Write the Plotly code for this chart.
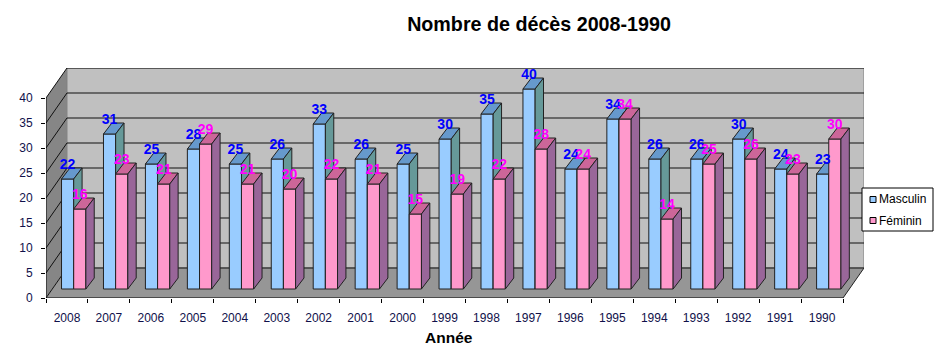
import plotly.graph_objects as go

# ---------------- data ----------------
years = ["2008", "2007", "2006", "2005", "2004", "2003", "2002", "2001", "2000", "1999",
         "1998", "1997", "1996", "1995", "1994", "1993", "1992", "1991", "1990"]
masculin = [22, 31, 25, 28, 25, 26, 33, 26, 25, 30, 35, 40, 24, 34, 26, 26, 30, 24, 23]
feminin = [16, 23, 21, 29, 21, 20, 22, 21, 15, 19, 22, 28, 24, 34, 14, 25, 26, 23, 30]
y_ticks = [0, 5, 10, 15, 20, 25, 30, 35, 40]
series_names = ["Masculin", "Féminin"]

# ---------------- styling / geometry constants ----------------
FONT = "Liberation Sans, Arial, sans-serif"
W, H = 950, 353
ML, MR, MT, MB = 46, 86, 68, 55
PW, PH = W - ML - MR, H - MT - MB
WALL_DX, WALL_DY = 0.5, 6.0      # depth of the 3D box (category units, value units)
BASE = 1.8                       # bar base (front face) above the floor front edge
BAR_DX, BAR_DY = 0.2, 2.2        # depth of each bar
BAR_W = 0.29
OFFSETS = [-0.13, -0.13 + BAR_W]
n = len(years)
X_MIN, X_MAX = -0.5, n - 0.5 + WALL_DX
Y_MAX = y_ticks[-1] + WALL_DY

colors = {
    "Masculin": dict(front="#99CCFF", top="#6699CC", side="#669999", label="#0000FF"),
    "Féminin": dict(front="#FF99CC", top="#CC6699", side="#996699", label="#FF00FF"),
}

def px2paper(px, py):
    return (px - ML) / PW, (H - MB - py) / PH

fig = go.Figure()

# ---------------- bars (front, top and side faces) ----------------
for name, vals, off in zip(series_names, [masculin, feminin], OFFSETS):
    c = colors[name]
    fx, fy, tx, ty, sx, sy = [], [], [], [], [], []
    for i, v in enumerate(vals):
        x0 = i + off
        x1 = x0 + BAR_W
        y0 = BASE
        y1 = BASE + v
        fx += [x0, x1, x1, x0, x0, None]
        fy += [y0, y0, y1, y1, y0, None]
        tx += [x0, x1, x1 + BAR_DX, x0 + BAR_DX, x0, None]
        ty += [y1, y1, y1 + BAR_DY, y1 + BAR_DY, y1, None]
        sx += [x1, x1 + BAR_DX, x1 + BAR_DX, x1, x1, None]
        sy += [y0, y0 + BAR_DY, y1 + BAR_DY, y1, y0, None]
    for xs, ys, col in [(fx, fy, c["front"]), (tx, ty, c["top"]), (sx, sy, c["side"])]:
        fig.add_trace(go.Scatter(
            x=xs, y=ys, mode="lines", fill="toself", fillcolor=col,
            line=dict(color="#222222", width=1), hoverinfo="skip",
            showlegend=False, name=name))

# ---------------- data labels ----------------
for name, vals, off in zip(series_names, [masculin, feminin], OFFSETS):
    fig.add_trace(go.Scatter(
        x=[i + off + BAR_W / 2 for i in range(n)],
        y=[BASE + v + 2.7 for v in vals],
        mode="text", text=[str(v) for v in vals], textposition="middle center",
        textfont=dict(family=FONT, size=14, color=colors[name]["label"], weight="bold"),
        hoverinfo="skip", showlegend=False, cliponaxis=False))

# ---------------- 3D walls, floor and gridlines ----------------
shapes = []
shapes.append(dict(type="path", layer="below", xref="x", yref="y",
                   path=f"M {X_MIN},0 L {X_MIN},{y_ticks[-1]} L {X_MIN + WALL_DX},{Y_MAX} "
                        f"L {X_MIN + WALL_DX},{WALL_DY} Z",
                   fillcolor="#868686", line=dict(width=0)))
shapes.append(dict(type="rect", layer="below", xref="x", yref="y",
                   x0=X_MIN + WALL_DX, x1=X_MAX, y0=WALL_DY, y1=Y_MAX,
                   fillcolor="#C0C0C0", line=dict(color="#808080", width=1)))
shapes.append(dict(type="path", layer="below", xref="x", yref="y",
                   path=f"M {X_MIN},0 L {n - 0.5},0 L {X_MAX},{WALL_DY} L {X_MIN + WALL_DX},{WALL_DY} Z",
                   fillcolor="#969696", line=dict(width=0)))
for v in y_ticks:
    shapes.append(dict(type="line", layer="below", xref="x", yref="y",
                       x0=X_MIN + WALL_DX, x1=X_MAX, y0=v + WALL_DY, y1=v + WALL_DY,
                       line=dict(color="#111111", width=1)))
    shapes.append(dict(type="line", layer="below", xref="x", yref="y",
                       x0=X_MIN, x1=X_MIN + WALL_DX, y0=v, y1=v + WALL_DY,
                       line=dict(color="#111111", width=1)))
# front edges (axes)
shapes.append(dict(type="line", layer="below", xref="x", yref="y",
                   x0=X_MIN, x1=X_MIN, y0=0, y1=y_ticks[-1], line=dict(color="black", width=1)))
shapes.append(dict(type="line", layer="below", xref="x", yref="y",
                   x0=X_MIN, x1=n - 0.5, y0=0, y1=0, line=dict(color="black", width=1)))
shapes.append(dict(type="line", layer="below", xref="x", yref="y",
                   x0=n - 0.5, x1=X_MAX, y0=0, y1=WALL_DY, line=dict(color="#222222", width=1)))

# ---------------- manual legend ----------------
lx0, ly0 = px2paper(862, 188)
lx1, ly1 = px2paper(933, 231)
shapes.append(dict(type="rect", xref="paper", yref="paper", x0=lx0, x1=lx1, y0=ly1, y1=ly0,
                   fillcolor="white", line=dict(color="black", width=1)))
annotations = []
for k, name in enumerate(series_names):
    cy = 199.5 + 21 * k
    sx0, sy0 = px2paper(870, cy - 3)
    sx1, sy1 = px2paper(876, cy + 3)
    shapes.append(dict(type="rect", xref="paper", yref="paper", x0=sx0, x1=sx1, y0=sy1, y1=sy0,
                       fillcolor=colors[name]["front"], line=dict(color="black", width=1)))
    tx_, ty_ = px2paper(877, cy)
    annotations.append(dict(text=name, x=tx_, y=ty_, xref="paper", yref="paper",
                            xanchor="left", yanchor="middle", showarrow=False,
                            font=dict(family=FONT, size=12, color="black")))

ax_, ay_ = px2paper(449, 337)
annotations.append(dict(text="<b>Année</b>", x=ax_, y=ay_, xref="paper", yref="paper",
                        xanchor="center", yanchor="middle", showarrow=False,
                        font=dict(family=FONT, size=15.5, color="black")))

TICK_COLOR = "#10104a"
fig.update_layout(
    width=W, height=H,
    margin=dict(l=ML, r=MR, t=MT, b=MB, pad=0),
    paper_bgcolor="white", plot_bgcolor="white",
    showlegend=False,
    title=dict(text="<b>Nombre de décès 2008-1990</b>", x=539 / W, xref="container",
               xanchor="center", y=1 - 24 / H, yref="container", yanchor="middle",
               font=dict(family=FONT, size=19.7, color="black")),
    xaxis=dict(range=[X_MIN, X_MAX], showgrid=False, zeroline=False, showline=False,
               tickmode="array", tickvals=list(range(n)), ticktext=years, ticks="",
               tickfont=dict(family=FONT, size=12, color=TICK_COLOR),
               ticklabelstandoff=11,
               minor=dict(tickmode="array", tickvals=[i - 0.5 for i in range(n + 1)],
                          ticks="outside", ticklen=4, tickcolor="black", tickwidth=1,
                          showgrid=False),
               fixedrange=True),
    yaxis=dict(range=[0, Y_MAX], showgrid=False, zeroline=False, showline=False,
               tickmode="array", tickvals=y_ticks, ticks="outside", ticklen=4,
               tickcolor="black", tickwidth=1,
               tickfont=dict(family=FONT, size=12, color=TICK_COLOR),
               ticklabelstandoff=6, fixedrange=True),
    shapes=shapes, annotations=annotations,
    font=dict(family=FONT),
)

fig.write_html("out.html")
